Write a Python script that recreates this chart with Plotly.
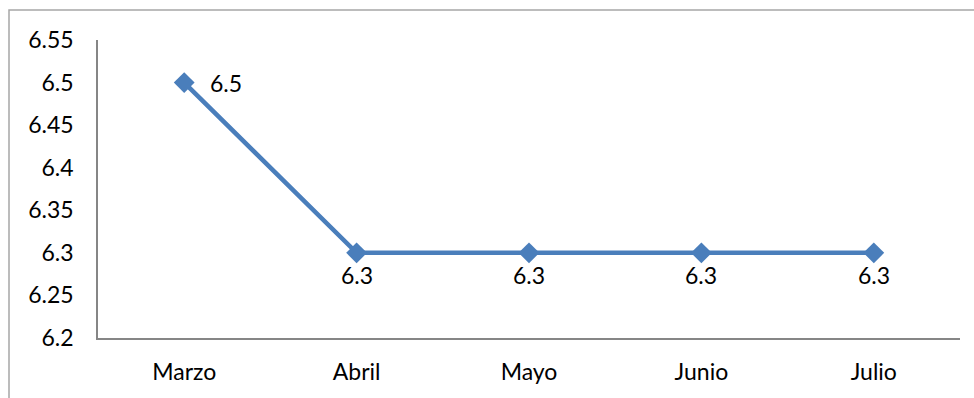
import plotly.graph_objects as go

# Monthly values
months = ["Marzo", "Abril", "Mayo", "Junio", "Julio"]
values = [6.5, 6.3, 6.3, 6.3, 6.3]

# Y-axis ticks
y_ticks = [6.2, 6.25, 6.3, 6.35, 6.4, 6.45, 6.5, 6.55]
y_tick_text = ["6.2", "6.25", "6.3", "6.35", "6.4", "6.45", "6.5", "6.55"]

FONT = "Lato"
FSIZE = 23
LINE_BLUE = "#4A7EBB"
AXIS_GREY = "#868686"

fig = go.Figure()
fig.add_trace(go.Scatter(
    x=months,
    y=values,
    mode="lines+markers",
    line=dict(color=LINE_BLUE, width=4.5),
    marker=dict(symbol="diamond", size=16, color=LINE_BLUE),
    cliponaxis=False,
    showlegend=False,
))

# Value labels: first point to the right, the rest below the marker
annotations = []
for i, (m, v) in enumerate(zip(months, values)):
    if i == 0:
        annotations.append(dict(
            x=m, y=v, xref="x", yref="y", text=f"{v:g}", showarrow=False,
            xanchor="left", yanchor="middle", xshift=24,
            font=dict(family=FONT, size=FSIZE, color="#000000"),
        ))
    else:
        annotations.append(dict(
            x=m, y=v, xref="x", yref="y", text=f"{v:g}", showarrow=False,
            xanchor="center", yanchor="middle", yshift=-22,
            font=dict(family=FONT, size=FSIZE, color="#000000"),
        ))

fig.update_layout(
    width=974,
    height=398,
    margin=dict(l=98, r=14, t=40, b=60),
    paper_bgcolor="white",
    plot_bgcolor="white",
    font=dict(family=FONT, size=FSIZE, color="#000000"),
    xaxis=dict(
        type="category",
        range=[-0.5, len(months) - 0.5],
        showgrid=False,
        zeroline=False,
        showline=True,
        linecolor=AXIS_GREY,
        linewidth=1.5,
        ticks="",
        ticklabelstandoff=13,
        tickfont=dict(family=FONT, size=FSIZE),
    ),
    yaxis=dict(
        range=[6.2, 6.55],
        tickvals=y_ticks,
        ticktext=y_tick_text,
        showgrid=False,
        zeroline=False,
        showline=True,
        linecolor=AXIS_GREY,
        linewidth=1.5,
        ticks="",
        ticklabelstandoff=18,
        tickfont=dict(family=FONT, size=FSIZE),
    ),
    annotations=annotations,
    shapes=[dict(
        type="rect",
        xref="paper", yref="paper",
        x0=(9 - 98) / 862, x1=1.2,
        y0=-0.4, y1=(338 - 10) / 298,
        line=dict(color="#A6A6A6", width=1.5),
        fillcolor="rgba(0,0,0,0)",
        layer="below",
    )],
)

fig.write_html("out.html")
